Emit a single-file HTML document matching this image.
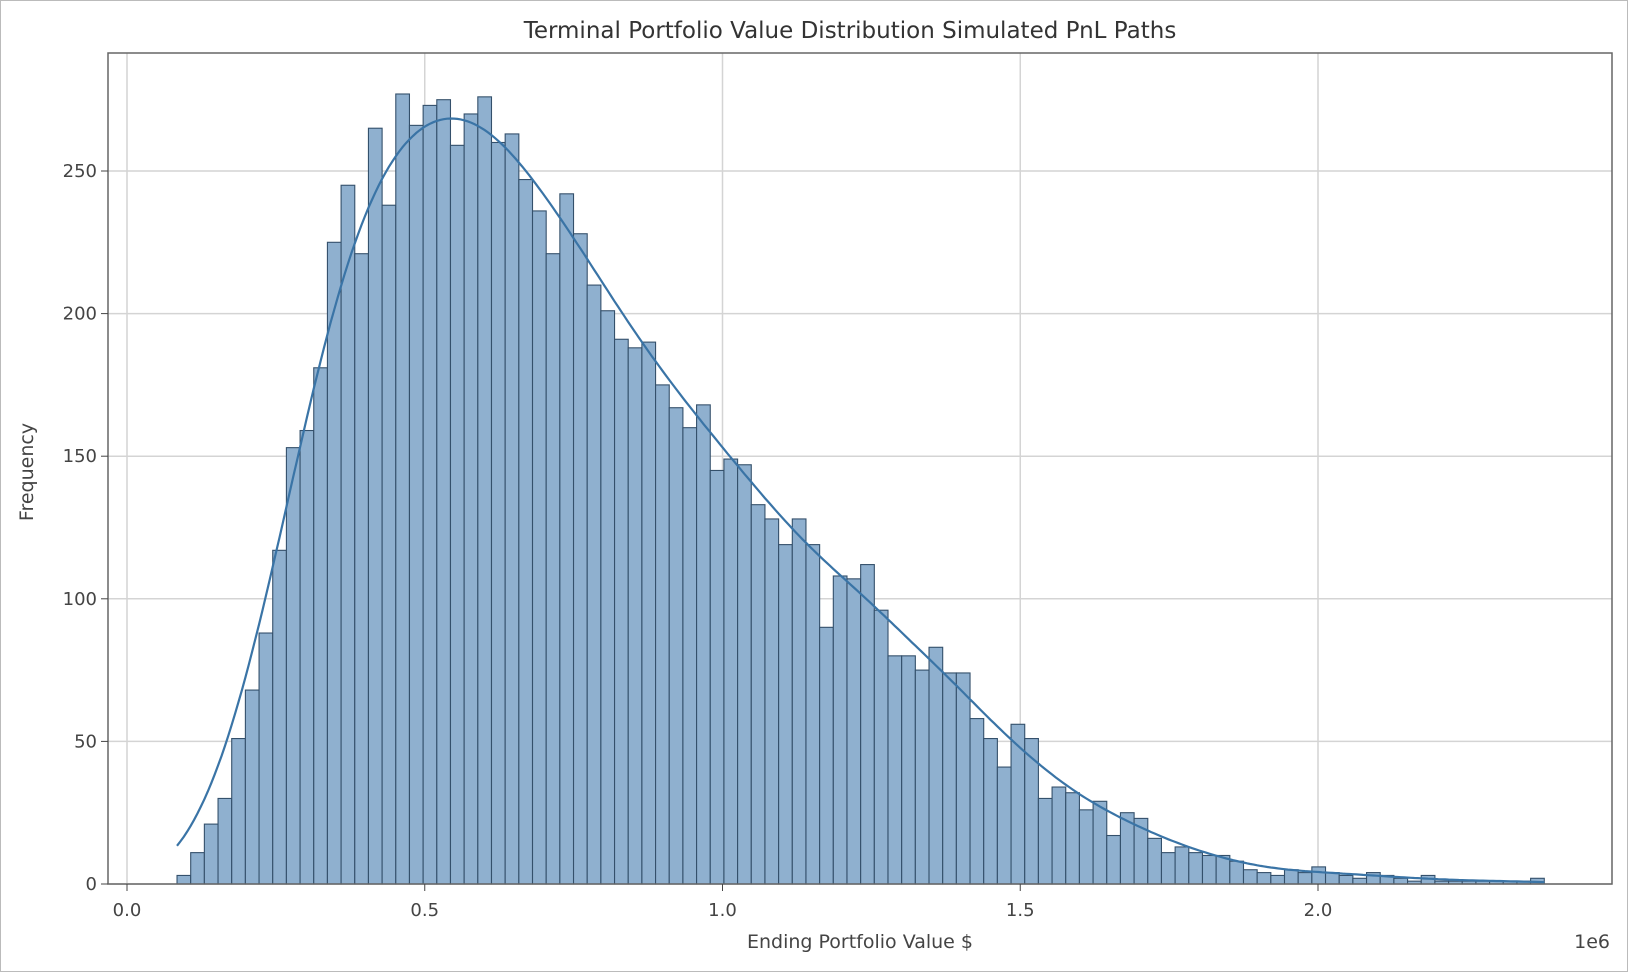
<!DOCTYPE html>
<html><head><meta charset="utf-8"><style>
html,body{margin:0;padding:0;background:#fff;}
svg{display:block;font-family:"DejaVu Sans","Liberation Sans",sans-serif;}
</style></head><body>
<svg id="s" width="1628" height="972" xmlns="http://www.w3.org/2000/svg">
<rect x="0.5" y="0.5" width="1627" height="971" fill="#fff" stroke="#bbb"/>
<g id="grid"></g><g id="bars"></g><path id="kde" fill="none" stroke="#3a74a6" stroke-width="2.2"/>
<rect x="108" y="53" width="1504" height="831" fill="none" stroke="#666" stroke-width="1.5"/>
<g id="ticks" fill="#444" font-size="18"></g>
<text x="850" y="38" text-anchor="middle" font-size="23" fill="#333">Terminal Portfolio Value Distribution Simulated PnL Paths</text>
<text x="860" y="948" text-anchor="middle" font-size="19" fill="#444">Ending Portfolio Value $</text>
<text x="1610" y="948" text-anchor="end" font-size="19" fill="#444">1e6</text>
<text transform="translate(33,472) rotate(-90)" text-anchor="middle" font-size="19" fill="#444">Frequency</text>
</svg>
<script>
const c=[3,11,21,30,51,68,88,117,153,159,181,225,245,221,265,238,277,266,273,275,259,270,276,260,263,247,236,221,242,228,210,201,191,188,190,175,167,160,168,145,149,147,133,128,119,128,119,90,108,107,112,96,80,80,75,83,74,74,58,51,41,56,51,30,34,32,26,29,17,25,23,16,11,13,11,10,10,8,5,4,3,5,4,6,4,3,2,4,3,2,1,3,1,1,1,1,1,1,1,2];
const X=v=>127+v*595.5, Y=n=>884-n*2.852;
const x0=0.084, w=(2.38-0.084)/100;
let g='',b='',t='';
[0,0.5,1,1.5,2].forEach(v=>{g+=`<line x1="${X(v)}" x2="${X(v)}" y1="53" y2="884" stroke="#d4d4d4" stroke-width="1.5"/>`;
t+=`<line x1="${X(v)}" x2="${X(v)}" y1="884" y2="891" stroke="#444"/><text x="${X(v)}" y="916" text-anchor="middle">${v.toFixed(1)}</text>`;});
[0,50,100,150,200,250].forEach(n=>{g+=`<line x1="108" x2="1612" y1="${Y(n)}" y2="${Y(n)}" stroke="#d4d4d4" stroke-width="1.5"/>`;
t+=`<line x1="101" x2="108" y1="${Y(n)}" y2="${Y(n)}" stroke="#444"/><text x="97" y="${Y(n)+6}" text-anchor="end">${n}</text>`;});
c.forEach((n,i)=>{const a=X(x0+i*w);b+=`<rect x="${a}" y="${Y(n)}" width="${X(x0+(i+1)*w)-a}" height="${n*2.852}" fill="#8fb0cf" stroke="#34506b" stroke-width="1.1"/>`;});
document.getElementById('grid').innerHTML=g;document.getElementById('bars').innerHTML=b;document.getElementById('ticks').innerHTML=t;
const sig=3.2;let d='';
for(let k=0;k<=400;k++){const p=k/4; let s=0;
 for(let i=0;i<100;i++){const z=(p-(i+0.5))/sig;s+=c[i]*Math.exp(-z*z/2);} s/=sig*Math.sqrt(2*Math.PI);
 d+=(k?'L':'M')+X(x0+p*w).toFixed(1)+','+Y(s*1.015).toFixed(1);}
document.getElementById('kde').setAttribute('d',d);
</script>
</body></html>
